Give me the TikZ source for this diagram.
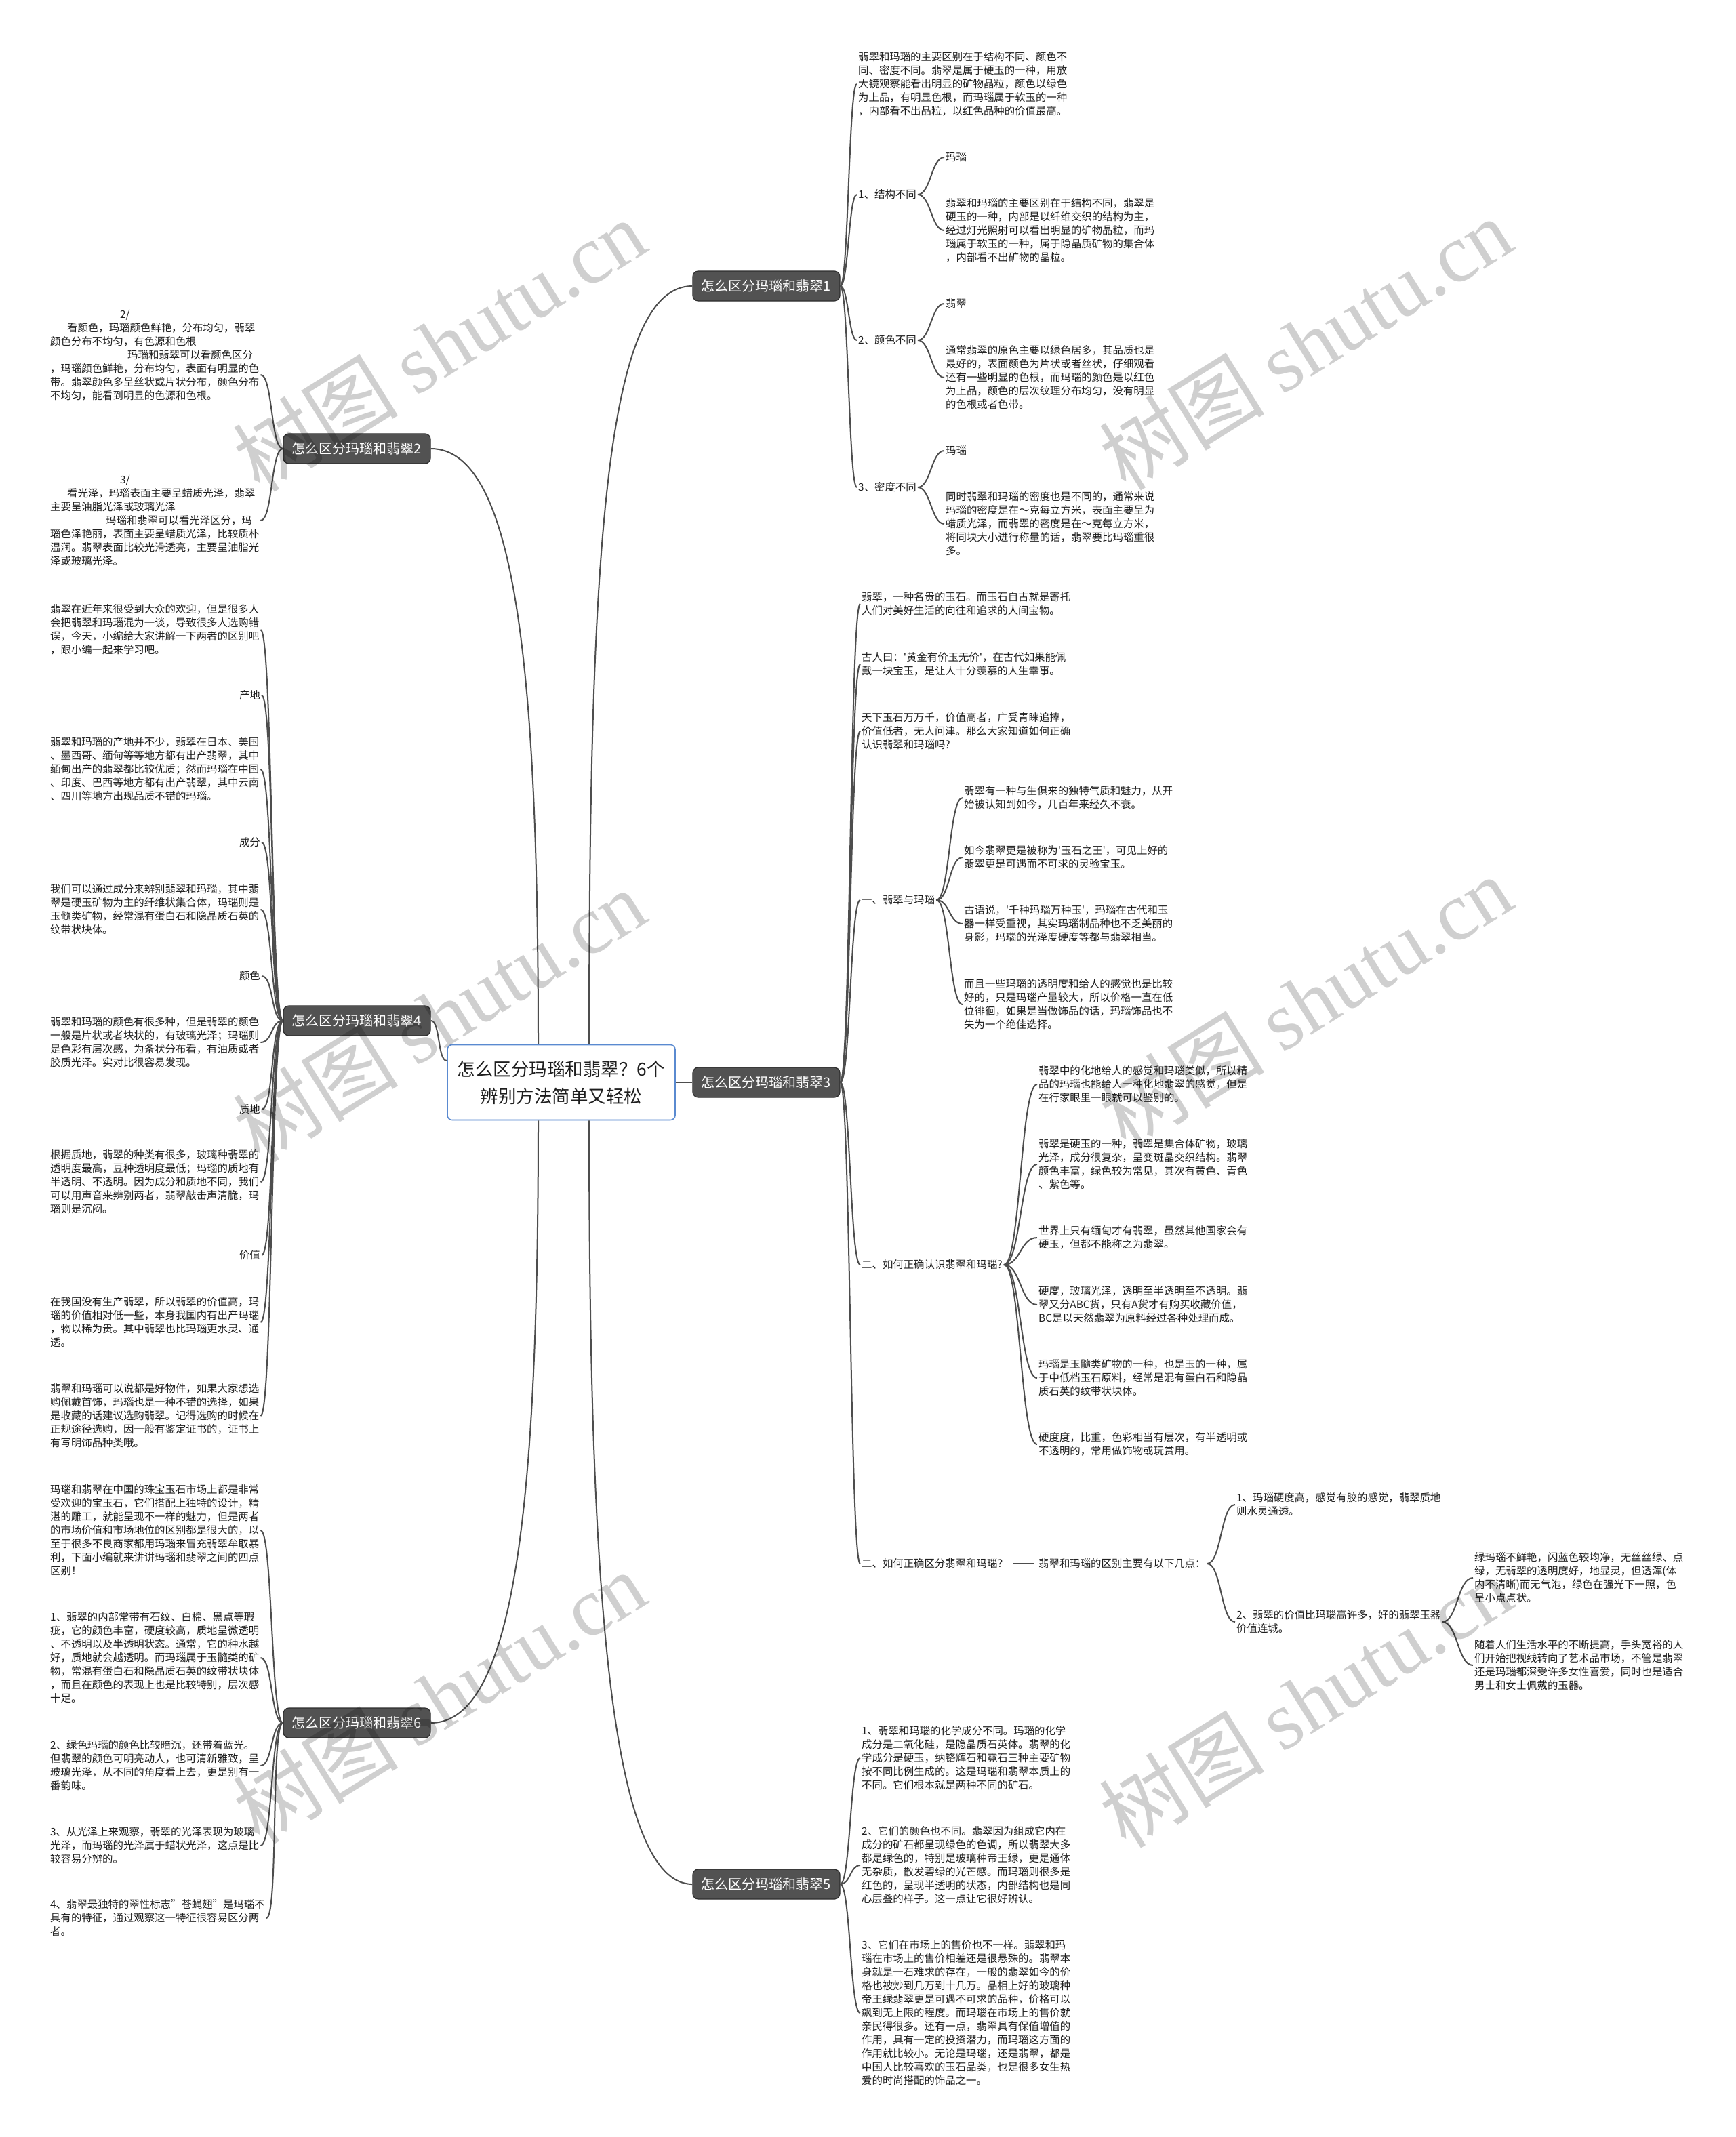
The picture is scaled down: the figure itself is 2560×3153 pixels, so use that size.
\documentclass[tikz,border=0pt]{standalone}
\usepackage{fontspec}
\setmainfont{Noto Sans CJK SC}
\newfontfamily\plainq{Noto Sans CJK SC}[Ligatures=TeXOff]
\newfontfamily\wmlatin{Liberation Serif}
\usetikzlibrary{calc}
\definecolor{lineC}{HTML}{4D4D4D}
\definecolor{boxC}{HTML}{525252}
\definecolor{boxB}{HTML}{2E2E2E}
\definecolor{rootB}{HTML}{5A8AD0}
\definecolor{txt}{HTML}{1E1E1E}
\newcommand\lkR[3]{\draw[conn] (#1) .. controls +(#3,0) and +(-#3,0) .. (#2);}
\newcommand\lkL[3]{\draw[conn] (#1) .. controls +(-#3,0) and +(#3,0) .. (#2);}
\newcommand\sq{{\plainq'}}
\begin{document}
\begin{tikzpicture}[x=1pt,y=-1pt,
 conn/.style={draw=lineC, line width=2pt},
 leaf/.style={anchor=west, align=left, inner sep=2pt, text=txt, font=\fontsize{15.4}{20}\selectfont},
 leafE/.style={leaf, anchor=east},
 branch/.style={draw=boxB, line width=1.2pt, fill=boxC, rounded corners=8pt, text=white, font=\fontsize{20}{24}\selectfont, minimum width=217pt, minimum height=44pt, inner sep=0pt},
 rootbox/.style={draw=rootB, line width=1.6pt, fill=white, rounded corners=7pt, align=center, text=txt, font=\fontsize{26.5}{40}\selectfont, minimum width=336pt, minimum height=111pt, inner sep=0pt},
 wm/.style={rotate=32, text=black, text opacity=0.19, font=\fontsize{122}{122}\selectfont}]
\useasboundingbox (0,0) rectangle (2560,3153);
\fill[white] (0,0) rectangle (2560,3153);

% root and branches
\node[rootbox] (root) at (828,1597) {怎么区分玛瑙和翡翠？6个\\辨别方法简单又轻松};
\node[branch] (B1) at (1130.5,422) {怎么区分玛瑙和翡翠1};
\node[branch] (B2) at (526.5,662) {怎么区分玛瑙和翡翠2};
\node[branch] (B3) at (1130.5,1597) {怎么区分玛瑙和翡翠3};
\node[branch] (B4) at (526.5,1506) {怎么区分玛瑙和翡翠4};
\node[branch] (B5) at (1130.5,2780) {怎么区分玛瑙和翡翠5};
\node[branch] (B6) at (526.5,2542) {怎么区分玛瑙和翡翠6};

% branch 1
\node[leaf] (a0) at (1264,124) {翡翠和玛瑙的主要区别在于结构不同、颜色不\\同、密度不同。翡翠是属于硬玉的一种，用放\\大镜观察能看出明显的矿物晶粒，颜色以绿色\\为上品，有明显色根，而玛瑙属于软玉的一种\\，内部看不出晶粒，以红色品种的价值最高。};
\node[leaf] (a1) at (1264,287) {1、结构不同};
\node[leaf] (a1x) at (1393,232) {玛瑙};
\node[leaf] (a1y) at (1393,340) {翡翠和玛瑙的主要区别在于结构不同，翡翠是\\硬玉的一种，内部是以纤维交织的结构为主，\\经过灯光照射可以看出明显的矿物晶粒，而玛\\瑙属于软玉的一种，属于隐晶质矿物的集合体\\，内部看不出矿物的晶粒。};
\node[leaf] (a2) at (1264,502) {2、颜色不同};
\node[leaf] (a2x) at (1393,448) {翡翠};
\node[leaf] (a2y) at (1393,557) {通常翡翠的原色主要以绿色居多，其品质也是\\最好的，表面颜色为片状或者丝状，仔细观看\\还有一些明显的色根，而玛瑙的颜色是以红色\\为上品，颜色的层次纹理分布均匀，没有明显\\的色根或者色带。};
\node[leaf] (a3) at (1264,719) {3、密度不同};
\node[leaf] (a3x) at (1393,665) {玛瑙};
\node[leaf] (a3y) at (1393,773) {同时翡翠和玛瑙的密度也是不同的，通常来说\\玛瑙的密度是在～克每立方米，表面主要呈为\\蜡质光泽，而翡翠的密度是在～克每立方米，\\将同块大小进行称量的话，翡翠要比玛瑙重很\\多。};

% branch 2
\node[leaf] (k1) at (72,553) {\hspace*{103pt}2/\\\hspace*{25pt}看颜色，玛瑙颜色鲜艳，分布均匀，翡翠\\颜色分布不均匀，有色源和色根\\\hspace*{114pt}玛瑙和翡翠可以看颜色区分\\，玛瑙颜色鲜艳，分布均匀，表面有明显的色\\带。翡翠颜色多呈丝状或片状分布，颜色分布\\不均匀，能看到明显的色源和色根。\\~\\~\\~};
\node[leaf] (k2) at (72,768) {\hspace*{103pt}3/\\\hspace*{25pt}看光泽，玛瑙表面主要呈蜡质光泽，翡翠\\主要呈油脂光泽或玻璃光泽\\\hspace*{82pt}玛瑙和翡翠可以看光泽区分，玛\\瑙色泽艳丽，表面主要呈蜡质光泽，比较质朴\\温润。翡翠表面比较光滑透亮，主要呈油脂光\\泽或玻璃光泽。};

% branch 4
\node[leaf] (p0) at (72,929) {翡翠在近年来很受到大众的欢迎，但是很多人\\会把翡翠和玛瑙混为一谈，导致很多人选购错\\误，今天，小编给大家讲解一下两者的区别吧\\，跟小编一起来学习吧。};
\node[leafE] (pl1) at (386,1026) {产地};
\node[leaf] (p1) at (72,1135) {翡翠和玛瑙的产地并不少，翡翠在日本、美国\\、墨西哥、缅甸等等地方都有出产翡翠，其中\\缅甸出产的翡翠都比较优质；然而玛瑙在中国\\、印度、巴西等地方都有出产翡翠，其中云南\\、四川等地方出现品质不错的玛瑙。};
\node[leafE] (pl2) at (386,1243) {成分};
\node[leaf] (p2) at (72,1342) {我们可以通过成分来辨别翡翠和玛瑙，其中翡\\翠是硬玉矿物为主的纤维状集合体，玛瑙则是\\玉髓类矿物，经常混有蛋白石和隐晶质石英的\\纹带状块体。};
\node[leafE] (pl3) at (386,1440) {颜色};
\node[leaf] (p3) at (72,1538) {翡翠和玛瑙的颜色有很多种，但是翡翠的颜色\\一般是片状或者块状的，有玻璃光泽；玛瑙则\\是色彩有层次感，为条状分布看，有油质或者\\胶质光泽。实对比很容易发现。};
\node[leafE] (pl4) at (386,1637) {质地};
\node[leaf] (p4) at (72,1744) {根据质地，翡翠的种类有很多，玻璃种翡翠的\\透明度最高，豆种透明度最低；玛瑙的质地有\\半透明、不透明。因为成分和质地不同，我们\\可以用声音来辨别两者，翡翠敲击声清脆，玛\\瑙则是沉闷。};
\node[leafE] (pl5) at (386,1852) {价值};
\node[leaf] (p5) at (72,1951) {在我国没有生产翡翠，所以翡翠的价值高，玛\\瑙的价值相对低一些，本身我国内有出产玛瑙\\，物以稀为贵。其中翡翠也比玛瑙更水灵、通\\透。};
\node[leaf] (p6) at (72,2089) {翡翠和玛瑙可以说都是好物件，如果大家想选\\购佩戴首饰，玛瑙也是一种不错的选择，如果\\是收藏的话建议选购翡翠。记得选购的时候在\\正规途径选购，因一般有鉴定证书的，证书上\\有写明饰品种类哦。};

% branch 6
\node[leaf] (q0) at (72,2258) {玛瑙和翡翠在中国的珠宝玉石市场上都是非常\\受欢迎的宝玉石，它们搭配上独特的设计，精\\湛的雕工，就能呈现不一样的魅力，但是两者\\的市场价值和市场地位的区别都是很大的，以\\至于很多不良商家都用玛瑙来冒充翡翠牟取暴\\利，下面小编就来讲讲玛瑙和翡翠之间的四点\\区别！};
\node[leaf] (q1) at (72,2446) {1、翡翠的内部常带有石纹、白棉、黑点等瑕\\疵，它的颜色丰富，硬度较高，质地呈微透明\\、不透明以及半透明状态。通常，它的种水越\\好，质地就会越透明。而玛瑙属于玉髓类的矿\\物，常混有蛋白石和隐晶质石英的纹带状块体\\，而且在颜色的表现上也是比较特别，层次感\\十足。};
\node[leaf] (q2) at (72,2605) {2、绿色玛瑙的颜色比较暗沉，还带着蓝光。\\但翡翠的颜色可明亮动人，也可清新雅致，呈\\玻璃光泽，从不同的角度看上去，更是别有一\\番韵味。};
\node[leaf] (q3) at (72,2723) {3、从光泽上来观察，翡翠的光泽表现为玻璃\\光泽，而玛瑙的光泽属于蜡状光泽，这点是比\\较容易分辨的。};
\node[leaf] (q4) at (72,2830) {4、翡翠最独特的翠性标志"苍蝇翅"是玛瑙不\\具有的特征，通过观察这一特征很容易区分两\\者。};

% branch 3
\node[leaf] (t1) at (1269,891) {翡翠，一种名贵的玉石。而玉石自古就是寄托\\人们对美好生活的向往和追求的人间宝物。};
\node[leaf] (t2) at (1269,980) {古人曰：\sq 黄金有价玉无价\sq，在古代如果能佩\\戴一块宝玉，是让人十分羡慕的人生幸事。};
\node[leaf] (t3) at (1269,1079) {天下玉石万万千，价值高者，广受青睐追捧，\\价值低者，无人问津。那么大家知道如何正确\\认识翡翠和玛瑙吗?};
\node[leaf] (u1) at (1269,1328) {一、翡翠与玛瑙};
\node[leaf] (c1) at (1420,1177) {翡翠有一种与生俱来的独特气质和魅力，从开\\始被认知到如今，几百年来经久不衰。};
\node[leaf] (c2) at (1420,1265) {如今翡翠更是被称为\sq 玉石之王\sq，可见上好的\\翡翠更是可遇而不可求的灵验宝玉。};
\node[leaf] (c3) at (1420,1363) {古语说，\sq 千种玛瑙万种玉\sq，玛瑙在古代和玉\\器一样受重视，其实玛瑙制品种也不乏美丽的\\身影，玛瑙的光泽度硬度等都与翡翠相当。};
\node[leaf] (c4) at (1420,1482) {而且一些玛瑙的透明度和给人的感觉也是比较\\好的，只是玛瑙产量较大，所以价格一直在低\\位徘徊，如果是当做饰品的话，玛瑙饰品也不\\失为一个绝佳选择。};
\node[leaf] (u2) at (1269,1866) {二、如何正确认识翡翠和玛瑙?};
\node[leaf] (d1) at (1530,1600) {翡翠中的化地给人的感觉和玛瑙类似，所以精\\品的玛瑙也能给人一种化地翡翠的感觉，但是\\在行家眼里一眼就可以鉴别的。};
\node[leaf] (d2) at (1530,1718) {翡翠是硬玉的一种，翡翠是集合体矿物，玻璃\\光泽，成分很复杂，呈变斑晶交织结构。翡翠\\颜色丰富，绿色较为常见，其次有黄色、青色\\、紫色等。};
\node[leaf] (d3) at (1530,1826) {世界上只有缅甸才有翡翠，虽然其他国家会有\\硬玉，但都不能称之为翡翠。};
\node[leaf] (d4) at (1530,1925) {硬度，玻璃光泽，透明至半透明至不透明。翡\\翠又分ABC货，只有A货才有购买收藏价值，\\BC是以天然翡翠为原料经过各种处理而成。};
\node[leaf] (d5) at (1530,2033) {玛瑙是玉髓类矿物的一种，也是玉的一种，属\\于中低档玉石原料，经常是混有蛋白石和隐晶\\质石英的纹带状块体。};
\node[leaf] (d6) at (1530,2131) {硬度度，比重，色彩相当有层次，有半透明或\\不透明的，常用做饰物或玩赏用。};
\node[leaf] (u3) at (1269,2307) {二、如何正确区分翡翠和玛瑙？};
\node[leaf] (e2) at (1530,2307) {翡翠和玛瑙的区别主要有以下几点：};
\node[leaf] (f1) at (1822,2220) {1、玛瑙硬度高，感觉有胶的感觉，翡翠质地\\则水灵通透。};
\node[leaf] (f2) at (1822,2393) {2、翡翠的价值比玛瑙高许多，好的翡翠玉器\\价值连城。};
\node[leaf] (g1) at (2173,2328) {绿玛瑙不鲜艳，闪蓝色较均净，无丝丝绿、点\\绿，无翡翠的透明度好，地显灵，但透浑(体\\内不清晰)而无气泡，绿色在强光下一照，色\\呈小点点状。};
\node[leaf] (g2) at (2173,2457) {随着人们生活水平的不断提高，手头宽裕的人\\们开始把视线转向了艺术品市场，不管是翡翠\\还是玛瑙都深受许多女性喜爱，同时也是适合\\男士和女士佩戴的玉器。};

% branch 5
\node[leaf] (h1) at (1269,2594) {1、翡翠和玛瑙的化学成分不同。玛瑙的化学\\成分是二氧化硅，是隐晶质石英体。翡翠的化\\学成分是硬玉，纳铬辉石和霓石三种主要矿物\\按不同比例生成的。这是玛瑙和翡翠本质上的\\不同。它们根本就是两种不同的矿石。};
\node[leaf] (h2) at (1269,2752) {2、它们的颜色也不同。翡翠因为组成它内在\\成分的矿石都呈现绿色的色调，所以翡翠大多\\都是绿色的，特别是玻璃种帝王绿，更是通体\\无杂质，散发碧绿的光芒感。而玛瑙则很多是\\红色的，呈现半透明的状态，内部结构也是同\\心层叠的样子。这一点让它很好辨认。};
\node[leaf] (h3) at (1269,2970) {3、它们在市场上的售价也不一样。翡翠和玛\\瑙在市场上的售价相差还是很悬殊的。翡翠本\\身就是一石难求的存在，一般的翡翠如今的价\\格也被炒到几万到十几万。品相上好的玻璃种\\帝王绿翡翠更是可遇不可求的品种，价格可以\\飙到无上限的程度。而玛瑙在市场上的售价就\\亲民得很多。还有一点，翡翠具有保值增值的\\作用，具有一定的投资潜力，而玛瑙这方面的\\作用就比较小。无论是玛瑙，还是翡翠，都是\\中国人比较喜欢的玉石品类，也是很多女生热\\爱的时尚搭配的饰品之一。};

% root connectors
\draw[conn] ([xshift=41pt]root.north) .. controls +(0,-737) and +(-127,0) .. (B1.west);
\draw[conn] ([xshift=41pt]root.south) .. controls +(0,647) and +(-127,0) .. (B5.west);
\draw[conn] ([xshift=-34pt]root.north) .. controls +(0,-540) and +(127,0) .. (B2.east);
\draw[conn] ([xshift=-34pt]root.south) .. controls +(0,547) and +(127,0) .. (B6.east);
\draw[conn] (B4.east) .. controls +(14,0) and +(-14,0) .. ([yshift=32pt]root.west);
\draw[conn] (root.east) -- (B3.west);

% branch 1 connectors
\lkR{B1.east}{a0.west}{12}
\lkR{B1.east}{a1.west}{12}
\lkR{B1.east}{a2.west}{12}
\lkR{B1.east}{a3.west}{12}
\lkR{a1.east}{a1x.west}{19}
\lkR{a1.east}{a1y.west}{19}
\lkR{a2.east}{a2x.west}{19}
\lkR{a2.east}{a2y.west}{19}
\lkR{a3.east}{a3x.west}{19}
\lkR{a3.east}{a3y.west}{19}

% branch 2 connectors
\lkL{B2.west}{k1.east}{18}
\lkL{B2.west}{k2.east}{18}

% branch 4 connectors
\lkL{B4.west}{p0.east}{18}
\lkL{B4.west}{pl1.east}{18}
\lkL{B4.west}{p1.east}{18}
\lkL{B4.west}{pl2.east}{18}
\lkL{B4.west}{p2.east}{18}
\lkL{B4.west}{pl3.east}{18}
\lkL{B4.west}{p3.east}{18}
\lkL{B4.west}{pl4.east}{18}
\lkL{B4.west}{p4.east}{18}
\lkL{B4.west}{pl5.east}{18}
\lkL{B4.west}{p5.east}{18}
\lkL{B4.west}{p6.east}{18}

% branch 6 connectors
\lkL{B6.west}{q0.east}{18}
\lkL{B6.west}{q1.east}{18}
\lkL{B6.west}{q2.east}{18}
\lkL{B6.west}{q3.east}{18}
\lkL{B6.west}{q4.east}{18}

% branch 3 connectors
\lkR{B3.east}{t1.west}{15}
\lkR{B3.east}{t2.west}{15}
\lkR{B3.east}{t3.west}{15}
\lkR{B3.east}{u1.west}{15}
\lkR{B3.east}{u2.west}{15}
\lkR{B3.east}{u3.west}{15}
\lkR{u1.east}{c1.west}{20}
\lkR{u1.east}{c2.west}{20}
\lkR{u1.east}{c3.west}{20}
\lkR{u1.east}{c4.west}{20}
\lkR{u2.east}{d1.west}{25}
\lkR{u2.east}{d2.west}{25}
\lkR{u2.east}{d3.west}{25}
\lkR{u2.east}{d4.west}{25}
\lkR{u2.east}{d5.west}{25}
\lkR{u2.east}{d6.west}{25}
\draw[conn, shorten <=5pt, shorten >=5pt] (u3.east) -- (e2.west);
\lkR{e2.east}{f1.west}{21}
\lkR{e2.east}{f2.west}{21}
\lkR{f2.east}{g1.west}{23}
\lkR{f2.east}{g2.west}{23}

% branch 5 connectors
\lkR{B5.east}{h1.west}{15}
\lkR{B5.east}{h2.west}{15}
\lkR{B5.east}{h3.west}{15}

% watermarks
\node[wm] (w1) at (648,509) {树图 {\wmlatin shutu.cn}};
\node[wm] (w2) at (1926,507) {树图 {\wmlatin shutu.cn}};
\node[wm] (w3) at (648,1498) {树图 {\wmlatin shutu.cn}};
\node[wm] (w4) at (1926,1478) {树图 {\wmlatin shutu.cn}};
\node[wm] (w5) at (648,2504) {树图 {\wmlatin shutu.cn}};
\node[wm] (w6) at (1926,2510) {树图 {\wmlatin shutu.cn}};
\end{tikzpicture}
\end{document}
